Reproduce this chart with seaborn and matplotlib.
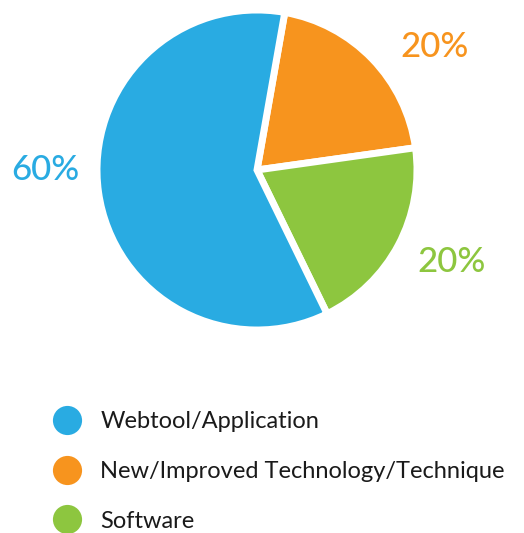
import matplotlib
matplotlib.use("Agg")
import matplotlib.pyplot as plt
from matplotlib.lines import Line2D
import seaborn as sns

categories = ["New/Improved Technology/Technique", "Software", "Webtool/Application"]
values = [20, 20, 60]
colors = ["#F7941E", "#8DC63F", "#29ABE2"]
pct_labels = ["20%", "20%", "60%"]
legend_order = ["Webtool/Application", "New/Improved Technology/Technique", "Software"]

sns.set_theme(style="white")
plt.rcParams["font.family"] = ["Lato", "DejaVu Sans"]

W, H = 524, 533
fig = plt.figure(figsize=(W / 100, H / 100), dpi=100)
fig.patch.set_facecolor("white")

# pie axes: center (257,170) px from top, radius ~159 px
cx, cy, half = 257, 170, 162
ax = fig.add_axes([(cx - half) / W, (H - cy - half) / H, 2 * half / W, 2 * half / H])
wedges, _ = ax.pie(values, colors=colors, startangle=80, counterclock=False,
                   radius=160 / 162,
                   wedgeprops=dict(edgecolor="white", linewidth=5))
ax.set_xlim(-1, 1)
ax.set_ylim(-1, 1)
ax.set_aspect("equal")
ax.axis("off")

# label positions in pixels (x, y from top)
label_pos = [(435, 47), (452, 262), (45, 170)]
for (px, py), t, c in zip(label_pos, pct_labels, colors):
    fig.text(px / W, 1 - py / H, t, color=c, fontsize=25, fontweight="medium",
             ha="center", va="center")

color_map = dict(zip(categories, colors))
handles = [Line2D([0], [0], marker="o", linestyle="none", markersize=21,
                  markerfacecolor=color_map[c], markeredgecolor="none")
           for c in legend_order]
fig.legend(handles, legend_order, loc="upper left",
           bbox_to_anchor=(52 / W, 1 - 411 / H), frameon=False,
           fontsize=17, handlelength=1.25, handletextpad=0.8,
           labelspacing=1.22, borderpad=0, borderaxespad=0,
           labelcolor="#1a1a1a")

fig.savefig("out.png", dpi=100)
